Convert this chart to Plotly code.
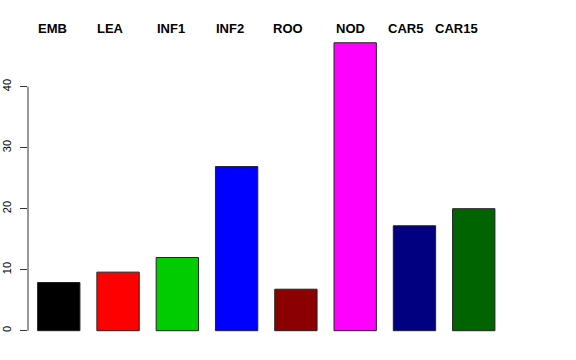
import plotly.graph_objects as go

categories = ["EMB", "LEA", "INF1", "INF2", "ROO", "NOD", "CAR5", "CAR15"]
values = [7.9, 9.6, 12.0, 26.9, 6.8, 47.2, 17.2, 20.0]
colors = ["#000000", "#FF0000", "#00CD00", "#0000FF", "#8B0000", "#FF00FF", "#000080", "#006400"]
y_ticks = [0, 10, 20, 30, 40]
label_shift = [-2, -2, -1, -1, -4, 0, -7, -20]

fig = go.Figure()
fig.add_trace(go.Bar(
    x=categories, y=values,
    marker=dict(color=colors, line=dict(color="#222222", width=1)),
    width=0.714,
))

bar_w = 0.714
for i, (c, s) in enumerate(zip(categories, label_shift)):
    fig.add_annotation(
        x=i - bar_w / 2, xref="x", y=1, yref="paper",
        text="<b>%s</b>" % c, showarrow=False,
        xanchor="left", yanchor="middle", yshift=-8, xshift=s,
        font=dict(family="Liberation Sans, Arial", size=13, color="black"),
    )

fig.add_shape(type="line", xref="paper", yref="y", x0=0, x1=0,
              y0=y_ticks[0], y1=y_ticks[-1], line=dict(color="#333333", width=1))

fig.update_layout(
    width=576, height=360,
    margin=dict(l=28, r=70, t=20, b=20, autoexpand=False),
    paper_bgcolor="white", plot_bgcolor="white",
    showlegend=False,
    font=dict(family="Liberation Sans, Arial", color="black"),
    xaxis=dict(range=[-0.519, 7.544], showticklabels=False, ticks="",
               showgrid=False, zeroline=False, showline=False, fixedrange=True,
               automargin=False),
    yaxis=dict(range=[-1.525, 50.93], tickvals=y_ticks, ticks="outside",
               ticklen=7, tickcolor="#333333", tickwidth=1,
               tickangle=-90, tickfont=dict(size=11, color="black"),
               showgrid=False, zeroline=False, showline=False,
               ticklabelstandoff=5, automargin=False),
)

fig.write_html("out.html",
               config={"displayModeBar": False},
               post_script="document.body.style.margin='0';document.body.style.overflow='hidden';")
